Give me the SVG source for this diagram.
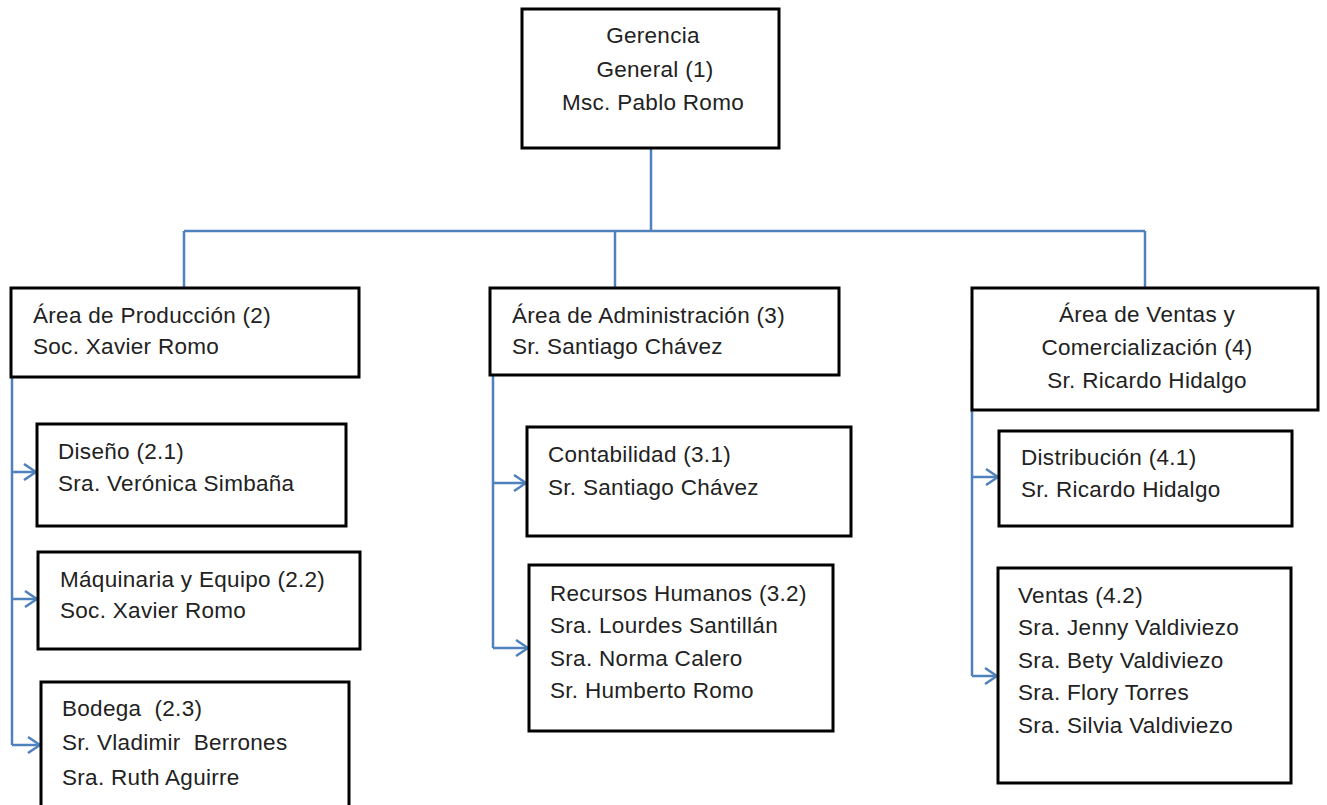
<svg xmlns="http://www.w3.org/2000/svg" width="1327" height="805" viewBox="0 0 1327 805">
<style>
.box{fill:#fff;stroke:#000;stroke-width:3}
.t{font-family:"Liberation Sans",Arial,sans-serif;font-size:22.5px;letter-spacing:0.3px;fill:#222;white-space:pre}
.c{text-anchor:middle}
.ln{fill:none;stroke:#4F81BD;stroke-width:2.5}
</style>
<defs>
<marker id="ah" viewBox="0 0 14 18" refX="13" refY="9" markerWidth="14" markerHeight="18" markerUnits="userSpaceOnUse" orient="auto">
<path d="M1,1 L13,9 L1,17" fill="none" stroke="#4F81BD" stroke-width="2.5"/>
</marker>
</defs>
<rect width="1327" height="805" fill="#fff"/>
<g id="connectors">
<path class="ln" d="M651,148 V231"/>
<path class="ln" d="M184,231 H1145"/>
<path class="ln" d="M184,231 V288"/>
<path class="ln" d="M615,231 V288"/>
<path class="ln" d="M1145,231 V288"/>
<path class="ln" d="M12,333 V745"/>
<path class="ln" d="M12,472 H36" marker-end="url(#ah)"/>
<path class="ln" d="M12,599 H37" marker-end="url(#ah)"/>
<path class="ln" d="M12,745 H40" marker-end="url(#ah)"/>
<path class="ln" d="M493,333 V648"/>
<path class="ln" d="M493,483 H526" marker-end="url(#ah)"/>
<path class="ln" d="M493,648 H528" marker-end="url(#ah)"/>
<path class="ln" d="M972,350 V676"/>
<path class="ln" d="M972,477 H998" marker-end="url(#ah)"/>
<path class="ln" d="M972,676 H997" marker-end="url(#ah)"/>
</g>
<g id="n1">
<rect class="box" x="522" y="9" width="257" height="139"/>
<text class="t c" x="653" y="43">Gerencia</text>
<text class="t c" x="655" y="77">General (1)</text>
<text class="t c" x="653" y="110">Msc. Pablo Romo</text>
</g>
<g id="n2">
<rect class="box" x="11" y="288" width="348" height="89"/>
<text class="t" x="33" y="323">Área de Producción (2)</text>
<text class="t" x="33" y="354">Soc. Xavier Romo</text>
</g>
<g id="n21">
<rect class="box" x="37" y="424" width="309" height="102"/>
<text class="t" x="58" y="459">Diseño (2.1)</text>
<text class="t" x="58" y="491">Sra. Verónica Simbaña</text>
</g>
<g id="n22">
<rect class="box" x="38" y="552" width="322" height="97"/>
<text class="t" x="60" y="587">Máquinaria y Equipo (2.2)</text>
<text class="t" x="60" y="618">Soc. Xavier Romo</text>
</g>
<g id="n23">
<rect class="box" x="41" y="682" width="308" height="140"/>
<text class="t" x="62" y="716">Bodega  (2.3)</text>
<text class="t" x="62" y="750">Sr. Vladimir  Berrones</text>
<text class="t" x="62" y="785">Sra. Ruth Aguirre</text>
</g>
<g id="n3">
<rect class="box" x="490" y="288" width="349" height="87"/>
<text class="t" x="512" y="323">Área de Administración (3)</text>
<text class="t" x="512" y="354">Sr. Santiago Chávez</text>
</g>
<g id="n31">
<rect class="box" x="527" y="427" width="324" height="109"/>
<text class="t" x="548" y="462">Contabilidad (3.1)</text>
<text class="t" x="548" y="495">Sr. Santiago Chávez</text>
</g>
<g id="n32">
<rect class="box" x="529" y="565" width="304" height="166"/>
<text class="t" x="550" y="601">Recursos Humanos (3.2)</text>
<text class="t" x="550" y="633">Sra. Lourdes Santillán</text>
<text class="t" x="550" y="666">Sra. Norma Calero</text>
<text class="t" x="550" y="698">Sr. Humberto Romo</text>
</g>
<g id="n4">
<rect class="box" x="972" y="288" width="346" height="122"/>
<text class="t c" x="1147" y="322">Área de Ventas y</text>
<text class="t c" x="1147" y="355">Comercialización (4)</text>
<text class="t c" x="1147" y="388">Sr. Ricardo Hidalgo</text>
</g>
<g id="n41">
<rect class="box" x="999" y="431" width="293" height="95"/>
<text class="t" x="1021" y="465">Distribución (4.1)</text>
<text class="t" x="1021" y="497">Sr. Ricardo Hidalgo</text>
</g>
<g id="n42">
<rect class="box" x="998" y="568" width="293" height="215"/>
<text class="t" x="1018" y="603">Ventas (4.2)</text>
<text class="t" x="1018" y="635">Sra. Jenny Valdiviezo</text>
<text class="t" x="1018" y="668">Sra. Bety Valdiviezo</text>
<text class="t" x="1018" y="700">Sra. Flory Torres</text>
<text class="t" x="1018" y="733">Sra. Silvia Valdiviezo</text>
</g>
</svg>
